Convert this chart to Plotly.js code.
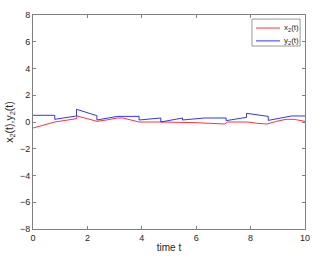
<!DOCTYPE html>
<html>
<head>
<meta charset="utf-8">
<script src="https://cdn.plot.ly/plotly-3.0.1.min.js"></script>
<style>html,body{margin:0;padding:0;background:#fff;}#chart{width:322px;height:257px;}</style>
</head>
<body>
<div id="chart"></div>
<script>
// time samples (repeated values mark jumps)
const tX = [0, 0.8, 1.6, 1.62, 2.0, 2.35, 2.7, 3.1, 3.3, 3.9, 4.7, 5.5, 6.0, 6.5, 7.05, 7.15, 7.9, 8.25, 8.6, 8.95, 9.3, 9.6, 10];
const x2 = [-0.45, 0.0, 0.25, 0.45, 0.25, 0.05, 0.15, 0.3, 0.3, 0.0, 0.0, 0.0, -0.05, -0.1, -0.15, 0.0, 0.0, -0.1, -0.15, 0.05, 0.2, 0.2, 0.05];
const tY = [0, 0.8, 0.8, 1.6, 1.6, 2.35, 2.35, 3.1, 3.9, 3.9, 4.7, 4.7, 5.5, 5.5, 6.3, 7.1, 7.1, 7.85, 7.85, 8.65, 8.65, 9.5, 10];
const y2 = [0.5, 0.5, 0.2, 0.45, 0.95, 0.47, 0.15, 0.42, 0.42, 0.15, 0.3, 0.0, 0.3, 0.15, 0.3, 0.3, 0.1, 0.35, 0.65, 0.42, 0.12, 0.45, 0.45];
const xTicks = [0, 2, 4, 6, 8, 10];
const yTicks = [-8, -6, -4, -2, 0, 2, 4, 6, 8];
const seriesNames = ['x<sub>2</sub>(t)', 'y<sub>2</sub>(t)'];
const seriesColors = ['#ff0000', '#0000ff'];

const FONT = 'Liberation Sans, Arial, sans-serif';
const traces = [
  {x: tX, y: x2, mode: 'lines', name: seriesNames[0], line: {color: seriesColors[0], width: 0.8}},
  {x: tY, y: y2, mode: 'lines', name: seriesNames[1], line: {color: seriesColors[1], width: 0.8}}
];
const axisCommon = {
  showgrid: false, zeroline: false, showline: true, mirror: 'ticks',
  linecolor: '#808080', linewidth: 1, ticks: 'inside', ticklen: 3, tickcolor: '#808080',
  tickfont: {family: FONT, size: 9, color: '#262626'}
};
// compact legend box drawn in paper coordinates
const legendRows = [0.939, 0.879];
const shapes = [
  {type: 'rect', xref: 'paper', yref: 'paper', x0: 0.805, x1: 0.982, y0: 0.855, y1: 0.981,
   line: {color: '#808080', width: 0.8}, fillcolor: '#ffffff'}
];
const annotations = [];
seriesNames.forEach((nm, i) => {
  shapes.push({type: 'line', xref: 'paper', yref: 'paper', x0: 0.820, x1: 0.908,
    y0: legendRows[i], y1: legendRows[i], line: {color: seriesColors[i], width: 0.8}});
  annotations.push({xref: 'paper', yref: 'paper', x: 0.917, y: legendRows[i], xanchor: 'left', yanchor: 'middle',
    text: nm, showarrow: false, font: {family: FONT, size: 8, color: '#262626'}});
});
const layout = {
  width: 322, height: 257,
  margin: {l: 33, r: 17, t: 15, b: 28},
  paper_bgcolor: '#fff', plot_bgcolor: '#fff',
  showlegend: false,
  shapes: shapes,
  annotations: annotations,
  xaxis: Object.assign({}, axisCommon, {range: [0, 10], tickvals: xTicks,
    title: {text: 'time t', standoff: 2, font: {family: FONT, size: 10, color: '#262626'}}}),
  yaxis: Object.assign({}, axisCommon, {range: [-8, 8], tickvals: yTicks,
    title: {text: 'x<sub>2</sub>(t),y<sub>2</sub>(t)', standoff: 4, font: {family: FONT, size: 10.5, color: '#262626'}}})
};
Plotly.newPlot('chart', traces, layout, {displayModeBar: false, staticPlot: true});
</script>
</body>
</html>
